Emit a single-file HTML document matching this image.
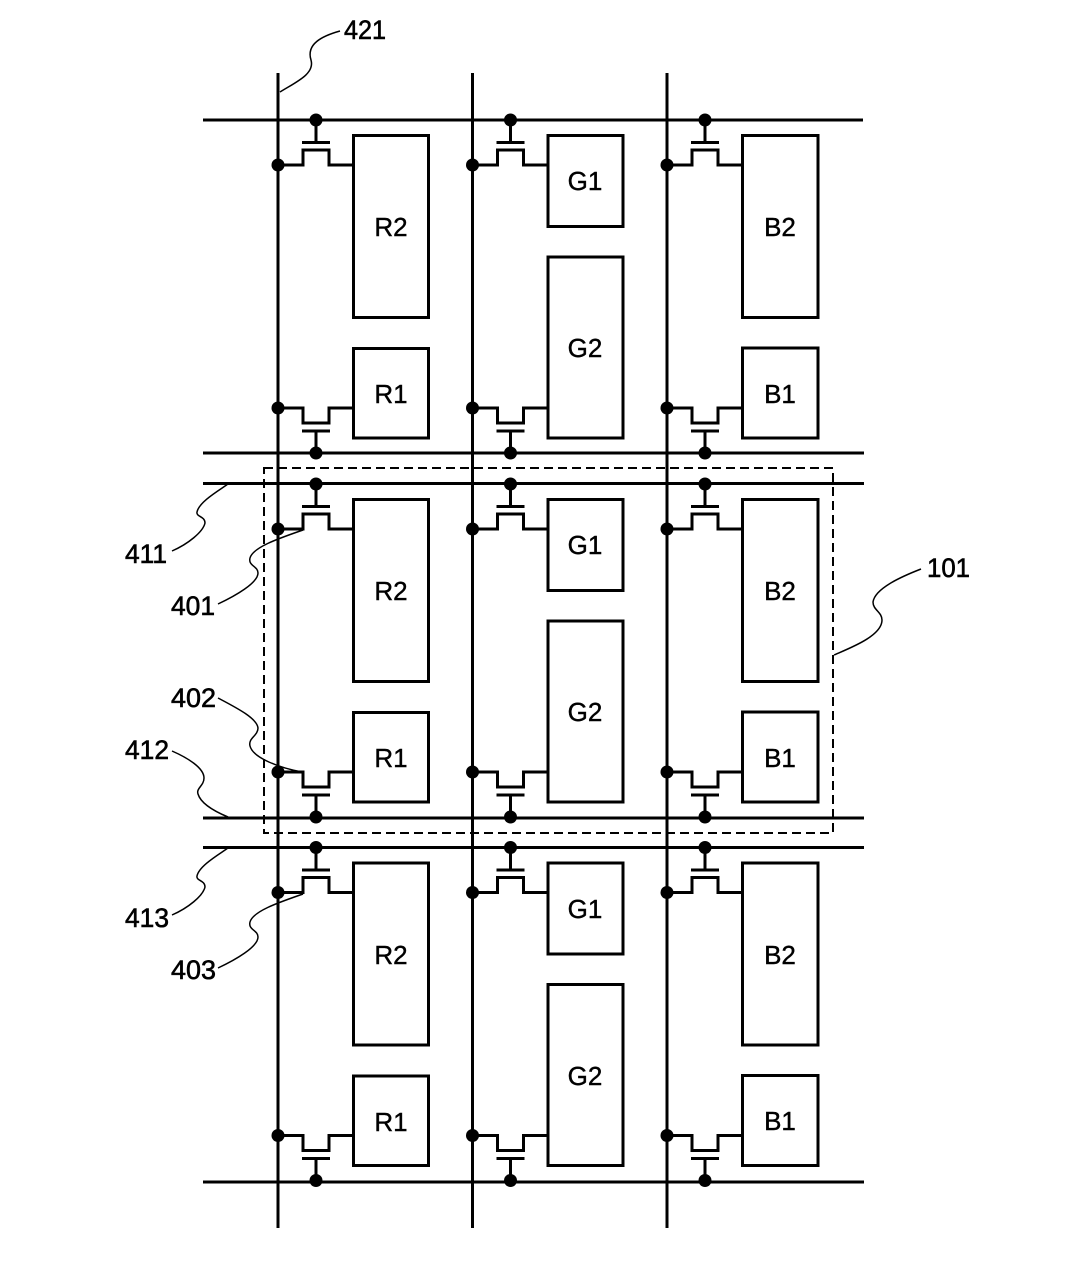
<!DOCTYPE html>
<html>
<head>
<meta charset="utf-8">
<style>
html,body{margin:0;padding:0;background:#fff;}
svg{display:block;}
text{font-family:"Liberation Sans",sans-serif;font-size:26px;fill:#000;stroke:#000;stroke-width:0.400;text-anchor:middle;}
text.n{text-anchor:start;font-size:27px;stroke-width:0.600;}
</style>
</head>
<body>
<svg width="1087" height="1276" viewBox="0 0 1087 1276" xmlns="http://www.w3.org/2000/svg">
<defs>
  <g id="tr" fill="none" stroke="#000" stroke-width="3">
    <path d="M278 165H303V150H329V165H353"/>
    <path d="M316 120V142M302 142.500H330"/>
    <circle cx="316" cy="120" r="6.500" fill="#000" stroke="none"/>
    <circle cx="278" cy="165" r="6.500" fill="#000" stroke="none"/>
    <path d="M278 408H303V423H329V408H353"/>
    <path d="M316 453V431M302 431H330"/>
    <circle cx="316" cy="453" r="6.500" fill="#000" stroke="none"/>
    <circle cx="278" cy="408" r="6.500" fill="#000" stroke="none"/>
  </g>
  <g id="cell">
    <use href="#tr"/>
    <use href="#tr" x="194.500"/>
    <use href="#tr" x="389"/>
    <g fill="#fff" stroke="#000" stroke-width="3">
      <rect x="353.500" y="135.500" width="75" height="182"/>
      <rect x="353.500" y="348.500" width="75" height="89.500"/>
      <rect x="548" y="135.500" width="75" height="91"/>
      <rect x="548" y="257" width="75" height="181"/>
      <rect x="742.500" y="135.500" width="75.500" height="182"/>
      <rect x="742.500" y="348" width="75.500" height="90"/>
    </g>
  </g>
</defs>
<rect width="1087" height="1276" fill="#fff"/>

<use href="#cell"/>
<use href="#cell" y="364"/>
<use href="#cell" y="727.500"/>

<g stroke="#000" stroke-width="3" fill="none">
  <path d="M278 73V1228M472.500 73V1228M667 73V1228" />
  <path d="M203 120H863M203 453H864M203 483.500H864M203 818H864M203 847.500H864M203 1182H864"/>
</g>

<rect x="264" y="468" width="569" height="365" fill="none" stroke="#000" stroke-width="2" stroke-dasharray="9 5"/>

<g fill="none" stroke="#000" stroke-width="1.500">
  <path d="M340 31C322 36 306 44 311 60C315 74 296 82 280 92"/>
  <path d="M172 551C188 544 203 532 205 523C205 516 196 517 197 512C199 502 218 491 228 484"/>
  <path d="M218 604C235 596 258 583 258 573C258 566 248 566 250 558C253 547 280 538 303 530"/>
  <path d="M218 698C235 707 257 718 258 728C258 736 248 738 250 746C253 758 280 768 302 772"/>
  <path d="M172 751C188 758 204 768 204 778C204 786 196 788 198 794C201 804 216 812 228 817"/>
  <path d="M172 915C188 908 203 896 205 887C205 880 196 881 197 876C199 866 218 855 228 848"/>
  <path d="M218 968C235 960 258 947 258 937C258 930 248 930 250 922C253 911 280 902 303 894"/>
  <path d="M921 569C903 576 875 588 873 602C873 610 882 612 882 620C882 636 850 648 834 655"/>
</g>

<g>
  <text x="391" y="236">R2</text>
  <text x="391" y="403">R1</text>
  <text x="585" y="190">G1</text>
  <text x="585" y="357">G2</text>
  <text x="780" y="236">B2</text>
  <text x="780" y="403">B1</text>

  <text x="391" y="600">R2</text>
  <text x="391" y="767">R1</text>
  <text x="585" y="554">G1</text>
  <text x="585" y="721">G2</text>
  <text x="780" y="600">B2</text>
  <text x="780" y="767">B1</text>

  <text x="391" y="964">R2</text>
  <text x="391" y="1131">R1</text>
  <text x="585" y="918">G1</text>
  <text x="585" y="1085">G2</text>
  <text x="780" y="964">B2</text>
  <text x="780" y="1130">B1</text>

  <text class="n" x="344" y="39" textLength="42" lengthAdjust="spacingAndGlyphs">421</text>
  <text class="n" x="125" y="563" textLength="42" lengthAdjust="spacingAndGlyphs">411</text>
  <text class="n" x="171" y="615" textLength="44" lengthAdjust="spacingAndGlyphs">401</text>
  <text class="n" x="171" y="707" textLength="45" lengthAdjust="spacingAndGlyphs">402</text>
  <text class="n" x="125" y="759" textLength="44" lengthAdjust="spacingAndGlyphs">412</text>
  <text class="n" x="125" y="927" textLength="44" lengthAdjust="spacingAndGlyphs">413</text>
  <text class="n" x="171" y="979" textLength="45" lengthAdjust="spacingAndGlyphs">403</text>
  <text class="n" x="927" y="577" textLength="43" lengthAdjust="spacingAndGlyphs">101</text>
</g>
</svg>
</body>
</html>
